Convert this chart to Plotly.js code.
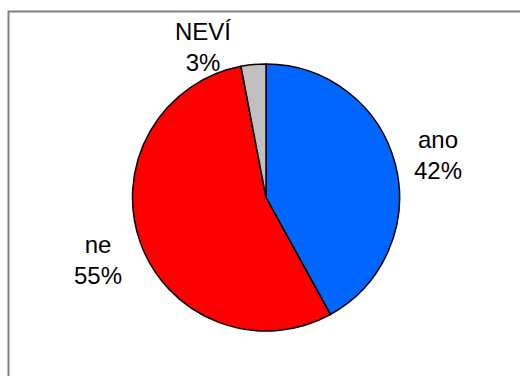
<!DOCTYPE html>
<html>
<head>
<meta charset="utf-8">
<script src="https://cdn.plot.ly/plotly-3.0.1.min.js"></script>
<style>html,body{margin:0;padding:0;background:#fff;}#chart{width:520px;height:376px;}</style>
</head>
<body>
<div id="chart"></div>
<script>
const labels = ["ano", "ne", "NEVÍ"];
const values = [42, 55, 3];
const colors = ["#0066FF", "#FF0000", "#C0C0C0"];

// label text centres in paper fractions (layout only)
const labelX = [438 / 520, 98 / 520, 203 / 520];
const labelY = [1 - 155 / 376, 1 - 260 / 376, 1 - 47 / 376];

const total = values.reduce((a, b) => a + b, 0);

const trace = {
  type: "pie",
  labels: labels,
  values: values,
  sort: false,
  direction: "clockwise",
  rotation: 0,
  marker: {colors: colors, line: {color: "#000000", width: 1.5}},
  textposition: "none",
  hoverinfo: "none",
  showlegend: false,
  domain: {x: [0.2548, 0.7683], y: [0.1197, 0.8298]}
};

const annotations = labels.map((lab, i) => ({
  xref: "paper", yref: "paper",
  x: labelX[i], y: labelY[i],
  xanchor: "center", yanchor: "middle",
  showarrow: false,
  text: lab + "<br>" + Math.round(values[i] / total * 100) + "%",
  font: {family: "Liberation Sans, Arial, sans-serif", size: 24, color: "#000"},
  align: "center"
}));

const layout = {
  width: 520, height: 376,
  margin: {l: 0, r: 0, t: 0, b: 0},
  paper_bgcolor: "#fff",
  showlegend: false,
  annotations: annotations,
  shapes: [{type: "rect", xref: "paper", yref: "paper",
    x0: 8.5/520, x1: 1.2, y0: -0.2, y1: 1 - 11.5/376,
    line: {color: "#808080", width: 2}}]
};

Plotly.newPlot("chart", [trace], layout, {displayModeBar: false, staticPlot: true});
</script>
</body>
</html>
